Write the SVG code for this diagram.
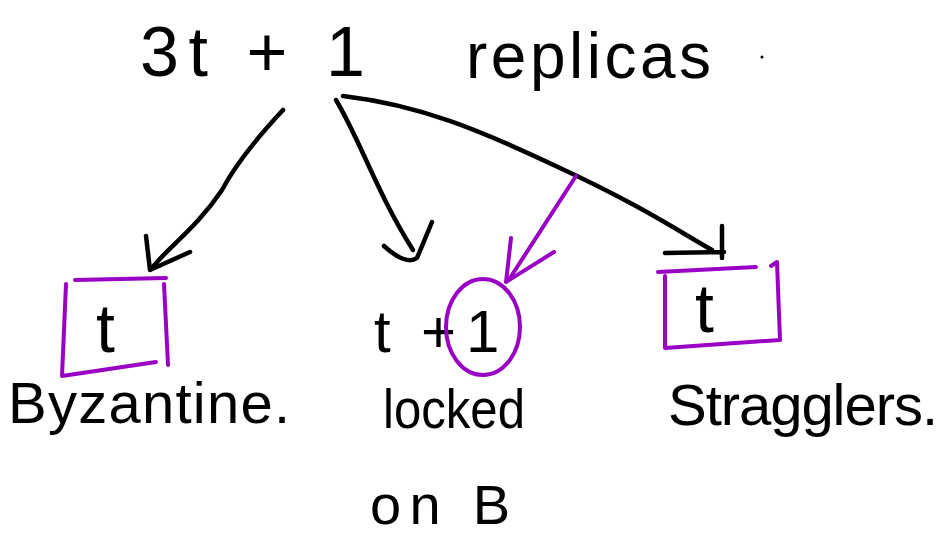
<svg xmlns="http://www.w3.org/2000/svg" width="942" height="542" viewBox="0 0 942 542">
<style>
.t{font-family:"Liberation Sans","DejaVu Sans",sans-serif;fill:#000}
.c{fill:none;stroke:#000;stroke-width:4.5;stroke-linecap:round;stroke-linejoin:round}
.p{fill:none;stroke:#9a00c4;stroke-width:4;stroke-linecap:round;stroke-linejoin:round}
</style>
<rect width="942" height="542" fill="#fff"/>
<g id="title">
<text class="t" x="140" y="76" font-size="70" textLength="225" lengthAdjust="spacing">3t + 1</text>
<text class="t" x="466" y="78" font-size="64" textLength="245" lengthAdjust="spacing">replicas</text>
<circle cx="762" cy="57" r="1.5" fill="#000"/>
</g>
<g id="connectors">
<path class="c" d="M283,110 C255,140 235,165 222,190 C195,230 170,245 152,268"/>
<path class="c" d="M146,236 L150,270 L190,252"/>
<path class="c" d="M336,100 C360,140 378,195 413,250"/>
<path class="c" d="M384,246 C395,256 408,264 417,258 L432,222"/>
<path class="c" d="M343,96 C420,105 480,130 560,168 C640,205 680,232 712,250"/>
<path class="c" d="M665,253 L724,252 M722,226 L722,258"/>
<path class="p" d="M576,176 L510,278"/>
<path class="p" d="M511,238 L506,282 L554,252"/>
</g>
<g id="byzantine">
<path class="p" d="M75,280 L166,278 M66,284 L62,376 L156,362 M164,284 L168,365"/>
<text class="t" x="96" y="352" font-size="68">t</text>
<text class="t" x="8" y="423" font-size="58" textLength="282" lengthAdjust="spacing">Byzantine.</text>
</g>
<g id="locked">
<text class="t" x="374" y="352" font-size="60" textLength="82" lengthAdjust="spacing">t+</text>
<text class="t" x="466" y="352" font-size="60">1</text>
<ellipse class="p" cx="483" cy="327" rx="37" ry="48"/>
<text class="t" x="383" y="428" font-size="56" textLength="142" lengthAdjust="spacingAndGlyphs">locked</text>
<text class="t" x="370" y="524" font-size="56" textLength="140" lengthAdjust="spacing">on B</text>
</g>
<g id="stragglers">
<path class="p" d="M658,272 L756,267 M665,276 L665,348 L780,340 L777,262 L771,266"/>
<text class="t" x="695" y="332" font-size="68">t</text>
<text class="t" x="668" y="425" font-size="58" textLength="270" lengthAdjust="spacing">Stragglers.</text>
</g>
</svg>
